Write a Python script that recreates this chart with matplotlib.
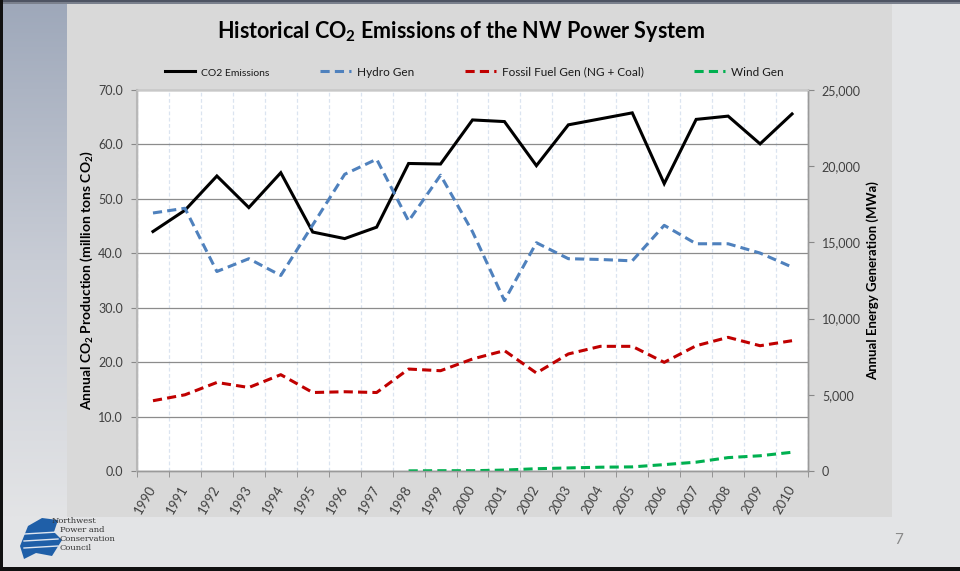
import numpy as np
import matplotlib
matplotlib.use("Agg")
import matplotlib.pyplot as plt
import matplotlib.ticker as ticker
from matplotlib.patches import Rectangle, Polygon
from matplotlib.lines import Line2D

plt.rcParams.update({
    "font.family": ["Lato", "DejaVu Sans"],
    "mathtext.fontset": "custom",
    "mathtext.rm": "Lato",
    "mathtext.bf": "Lato:bold",
})

years = [str(y) for y in range(1990, 2011)]

# CO2 emissions, million tons (left axis)
co2 = [44.0, 47.9, 54.2, 48.4, 54.8, 43.9, 42.7, 44.8, 56.5, 56.4, 64.5,
       64.2, 56.1, 63.6, 64.7, 65.8, 52.8, 64.6, 65.2, 60.1, 65.6]
# generation, MWa (right axis)
hydro = [16930, 17240, 13090, 13930, 12830, 16150, 19470, 20460, 16400, 19410, 15700,
         11180, 14980, 13930, 13880, 13790, 16120, 14910, 14910, 14300, 13380]
fossil = [4610, 5000, 5810, 5480, 6320, 5150, 5200, 5150, 6690, 6580, 7350,
          7900, 6430, 7680, 8180, 8180, 7130, 8220, 8770, 8220, 8550]
wind = [np.nan] * 8 + [10, 20, 20, 60, 150, 200, 250, 270, 420, 580, 880, 1000, 1230]

W, H = 960, 571
fig = plt.figure(figsize=(W / 100, H / 100), dpi=100)
fig.patch.set_facecolor("#e3e4e6")


def fx(px):
    return px / W


def fy(py):
    return 1 - py / H


# slide decoration: left gradient strip, top band, borders
bg = fig.add_axes([0, 0, 1, 1], zorder=-10)
bg.axis("off")
grad = np.linspace(0, 1, 256).reshape(-1, 1)
cm = matplotlib.colors.LinearSegmentedColormap.from_list("g", ["#9ea8ba", "#c8ccd5", "#e3e4e6"])
bg.imshow(grad, cmap=cm, extent=[3, 67, 517, 3], aspect="auto")
top = np.linspace(0, 1, 2).reshape(-1, 1)
bg.imshow(top, cmap=matplotlib.colors.LinearSegmentedColormap.from_list("t", ["#4e5463", "#7a808d"]),
          extent=[0, W, 4, 0], aspect="auto")
bg.add_patch(Rectangle((67, 4), 825, 513, color="#d9d9d9", lw=0))
bg.add_patch(Rectangle((0, 0), 3, H, color="#111111", lw=0))
bg.add_patch(Rectangle((0, H - 4), W, 4, color="#111111", lw=0))
bg.set_xlim(0, W)
bg.set_ylim(H, 0)

# logo (rough)
bg.add_patch(Polygon([(20, 546), (28, 526), (42, 518), (58, 520), (54, 532), (62, 540),
                      (52, 556), (36, 553), (24, 559)], closed=True, color="#1f5fa8", lw=0))
for yy in (534, 541, 548):
    bg.plot([24, 58], [yy, yy - 2], color="#dfe6f0", lw=1.0)
bg.text(52, 521, "Northwest", fontsize=6, family="DejaVu Serif", color="#333", va="center")
bg.text(60, 530, "Power and", fontsize=6, family="DejaVu Serif", color="#333", va="center")
bg.text(60, 539, "Conservation", fontsize=6, family="DejaVu Serif", color="#333", va="center")
bg.text(60, 548, "Council", fontsize=6, family="DejaVu Serif", color="#333", va="center")
bg.text(899, 540, "7", fontsize=11, color="#8a8a8a", ha="center", va="center")

# chart
ax = fig.add_axes([fx(137), fy(471), fx(808 - 137), (471 - 90) / H])
ax.set_facecolor("white")
ax2 = ax.twinx()

x = np.arange(len(years))
ax.plot(x, co2, color="black", lw=2.2, label="CO2 Emissions", zorder=3, solid_joinstyle="miter")
dash = (3, 1.7)
ax2.plot(x, hydro, color="#4f81bd", lw=2.2, dashes=dash, label="Hydro Gen", dash_capstyle="butt")
ax2.plot(x, fossil, color="#c00000", lw=2.2, dashes=dash, label="Fossil Fuel Gen (NG + Coal)",
         dash_capstyle="butt")
ax2.plot(x, wind, color="#00b050", lw=2.2, dashes=dash, label="Wind Gen", dash_capstyle="butt")

ax.set_xlim(-0.5, len(years) - 0.5)
ax.set_ylim(0, 70)
ax2.set_ylim(0, 25000)

ax.yaxis.set_major_locator(ticker.MultipleLocator(10))
ax.yaxis.set_major_formatter(ticker.FormatStrFormatter("%.1f"))
ax2.yaxis.set_major_locator(ticker.MultipleLocator(5000))
ax2.yaxis.set_major_formatter(ticker.FuncFormatter(lambda v, p: f"{v:,.0f}"))

ax.set_xticks(x)
ax.set_xticklabels(years, rotation=60, ha="right", va="center", rotation_mode="anchor",
                   fontsize=9.5, color="#404040")
ax.tick_params(axis="x", which="major", length=0, pad=11)
ax.set_xticks(np.arange(-0.5, len(years), 1), minor=True)
ax.tick_params(axis="x", which="minor", length=4, color="#888888")
ax.grid(axis="x", which="minor", color="#dbe4f0", lw=0.9, ls=(0, (3, 2)))
ax.grid(axis="y", which="major", color="#8c8c8c", lw=0.9)
ax.set_axisbelow(True)

ax.tick_params(axis="y", length=4, color="#888888", labelsize=9, labelcolor="#404040", pad=6)
ax2.tick_params(axis="y", length=4, color="#888888", labelsize=9, labelcolor="#404040", pad=6)

for a in (ax, ax2):
    for s in a.spines.values():
        s.set_color("#9a9a9a")
        s.set_linewidth(1)
ax2.spines["top"].set_color("#c8c8c8")
ax2.spines["left"].set_color("#b8b8b8")
ax2.spines["left"].set_linewidth(1.5)

ax.set_ylabel("Annual CO$_\\mathbf{2}$ Production (million tons CO$_\\mathbf{2}$)",
              fontsize=10, fontweight="bold", color="black")
ax.yaxis.set_label_coords(-0.062, 0.5)
ax2.set_ylabel("Annual Energy Generation (MWa)", fontsize=9.5, fontweight="bold", color="black")
ax2.yaxis.set_label_coords(1.087, 0.5)

fig.text(fx(461), fy(32), "Historical CO$_\\mathbf{2}$ Emissions of the NW Power System",
         fontsize=15.5, fontweight="bold", ha="center", va="center", color="black")

handles = [Line2D([], [], color="black", lw=2.2),
           Line2D([], [], color="#4f81bd", lw=2.2, dashes=dash),
           Line2D([], [], color="#c00000", lw=2.2, dashes=dash),
           Line2D([], [], color="#00b050", lw=2.2, dashes=dash)]
labels = ["CO2 Emissions", "Hydro Gen", "Fossil Fuel Gen (NG + Coal)", "Wind Gen"]
leg = fig.legend(handles, labels, loc="center", bbox_to_anchor=(fx(474), fy(72)), ncol=4,
                 frameon=False, fontsize=8.5, handlelength=2.6, handletextpad=0.5,
                 columnspacing=4.3)
for t in leg.get_texts():
    t.set_color("#1a1a1a")
leg.get_texts()[0].set_fontsize(7.5)

fig.savefig("out.png", dpi=100, facecolor=fig.get_facecolor())
